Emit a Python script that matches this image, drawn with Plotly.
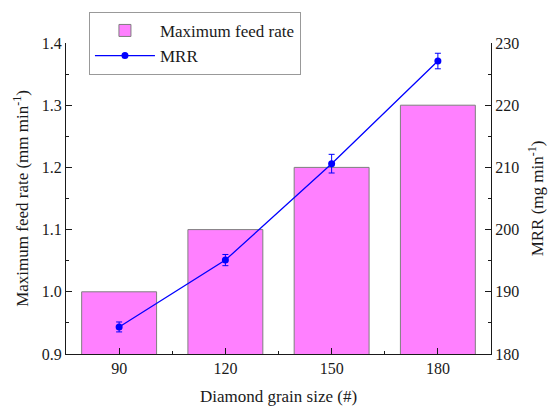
import plotly.graph_objects as go

categories = ["90", "120", "150", "180"]
feed_rate = [1.0, 1.1, 1.2, 1.3]
mrr = [184.35, 195.1, 210.6, 227.1]
mrr_err = [0.8, 0.9, 1.5, 1.25]

xpos = list(range(len(categories)))
font = "Liberation Serif, Times New Roman, serif"
ink = "#1a1a1a"

fig = go.Figure()
fig.add_trace(go.Bar(
    x=xpos, y=feed_rate, name="Maximum feed rate", width=0.705,
    marker=dict(color="#FF80FF", line=dict(color="#7f7f7f", width=1)),
    yaxis="y",
))
fig.add_trace(go.Scatter(
    x=xpos, y=mrr, name="MRR", mode="lines+markers", yaxis="y2",
    line=dict(color="#0000FF", width=1.3),
    marker=dict(color="#0000FF", size=7),
    error_y=dict(type="data", array=mrr_err, visible=True, color="#0000FF", thickness=1, width=3),
))

tickfont = dict(family=font, size=16, color=ink)
titlefont = dict(family=font, size=17, color=ink)
fig.update_layout(
    width=551, height=406,
    margin=dict(l=66, r=60, t=40, b=52),
    paper_bgcolor="white", plot_bgcolor="white",
    font=dict(family=font, size=16, color=ink),
    showlegend=True,
    legend=dict(x=0.054, y=1.1, xanchor="left", yanchor="top",
                bordercolor="#999", borderwidth=1, bgcolor="white",
                font=dict(family=font, size=17, color=ink),
                itemwidth=60, tracegroupgap=0),
    xaxis=dict(
        range=[-0.5, 3.5], tickmode="array", tickvals=xpos, ticktext=categories,
        showline=True, linecolor=ink, linewidth=1.2, mirror=False, automargin=False,
        ticks="inside", ticklen=6, tickcolor=ink, showgrid=False, zeroline=False,
        minor=dict(tickvals=[0.5, 1.5, 2.5], ticks="inside", ticklen=3, tickcolor=ink),
        tickfont=tickfont,
        title=dict(text="Diamond grain size (#)", font=titlefont, standoff=13),
    ),
    yaxis=dict(
        range=[0.9, 1.4], tick0=0.9, dtick=0.1, tickformat=".1f", automargin=False,
        showline=True, linecolor=ink, linewidth=1.2,
        ticks="inside", ticklen=6, tickcolor=ink, showgrid=False, zeroline=False,
        minor=dict(dtick=0.05, ticks="inside", ticklen=3, tickcolor=ink),
        tickfont=tickfont,
        title=dict(text="Maximum feed rate (mm min<sup>-1</sup>)", font=titlefont, standoff=8),
    ),
    yaxis2=dict(
        range=[180, 230], tick0=180, dtick=10, overlaying="y", side="right", automargin=False,
        showline=True, linecolor=ink, linewidth=1.2,
        ticks="inside", ticklen=6, tickcolor=ink, showgrid=False, zeroline=False,
        minor=dict(dtick=5, ticks="inside", ticklen=3, tickcolor=ink),
        tickfont=tickfont,
        title=dict(text="MRR (mg min<sup>-1</sup>)", font=titlefont, standoff=12),
    ),
)

fig.write_html("out.html")
